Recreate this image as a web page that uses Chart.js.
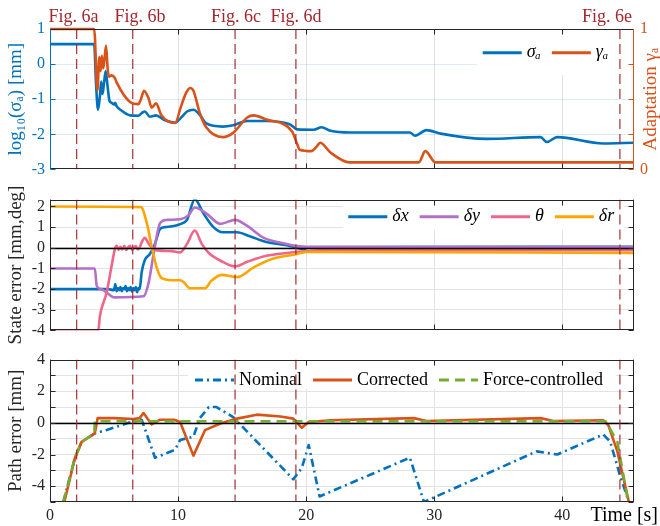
<!DOCTYPE html>
<html><head><meta charset="utf-8">
<script src="https://cdn.jsdelivr.net/npm/chart.js@4.4.1/dist/chart.umd.min.js"></script>
<style>
html,body{margin:0;padding:0;background:#fff;}
#wrap{position:relative;width:660px;height:526px;overflow:hidden;}
canvas{position:absolute;left:0;}
</style></head><body>
<div id="wrap">
<canvas id="c1" width="660" height="185" style="top:0px"></canvas>
<canvas id="c2" width="660" height="160" style="top:185px"></canvas>
<canvas id="c3" width="660" height="181" style="top:345px"></canvas>
</div>
<script>
// ---------------- DATA ----------------
const X_MAX = 45.6;
const timeTicks = [0, 10, 20, 30, 40];
const figNames = ['Fig. 6a', 'Fig. 6b', 'Fig. 6c', 'Fig. 6d', 'Fig. 6e'];
const figLineAt = [2.08, 6.46, 14.45, 19.2, 44.5];
const figLabelAt = [1.84, 7.03, 14.53, 19.2, 43.5];

// Panel 1: log10(sigma_a) and adaptation gamma_a
const sigmaTicks = [-3, -2, -1, 0, 1];
const gammaTicks = [0, 0.25, 0.5, 0.75, 1];
const sigmaT = [0, 3.45, 3.6, 3.75, 3.9, 4.0, 4.1, 4.2, 4.35, 4.5, 4.65, 4.8, 5.0, 5.1, 5.2, 5.5, 6.25, 6.9, 7.15, 7.4, 7.8, 8.3, 8.85, 9.77, 10.3, 10.7, 11.2, 11.7, 12.2, 13.5, 14.3, 15.4, 16.9, 18.75, 19.3, 20.6, 21.2, 21.9, 23.4, 28.1, 28.5, 29.4, 30.5, 34.1, 38.3, 38.8, 39.6, 43.2, 45.6];
const sigmaV = [0.57, 0.57, -0.6, -1.3, -0.9, -0.5, -0.85, -0.6, -0.2, -0.65, -1.05, -1.1, -1.15, -1.1, -1.2, -1.3, -1.46, -1.47, -1.4, -1.35, -1.5, -1.46, -1.58, -1.67, -1.5, -1.35, -1.3, -1.45, -1.69, -1.78, -1.74, -1.62, -1.62, -1.72, -1.86, -1.87, -1.8, -1.9, -1.95, -1.95, -2.04, -1.88, -1.98, -2.13, -2.08, -2.22, -2.08, -2.26, -2.24];
const gammaT = [0, 3.45, 3.7, 3.85, 3.95, 4.05, 4.15, 4.25, 4.375, 4.5, 4.6, 4.8, 5.07, 5.2, 6.25, 6.9, 7.1, 7.34, 7.68, 7.94, 8.28, 8.7, 9.77, 10.2, 10.6, 10.94, 11.2, 11.7, 12.2, 13.5, 14.3, 15.4, 15.9, 16.9, 18.9, 19.3, 19.5, 20.4, 20.8, 21.1, 21.9, 23.4, 28.8, 29.3, 30.1, 45.6];
const gammaV = [1, 1, 0.56, 0.8, 0.7, 0.81, 0.72, 0.78, 0.88, 0.72, 0.66, 0.67, 0.65, 0.62, 0.48, 0.465, 0.5, 0.56, 0.51, 0.44, 0.47, 0.385, 0.33, 0.44, 0.54, 0.58, 0.56, 0.4, 0.3, 0.23, 0.26, 0.37, 0.385, 0.355, 0.27, 0.18, 0.14, 0.13, 0.16, 0.19, 0.12, 0.05, 0.05, 0.13, 0.05, 0.05];

// Panel 2: state error
const stateTicks = [-4, -3, -2, -1, 0, 1, 2];
const dxT = [0, 4.5, 5.0, 5.1, 5.2, 5.3, 5.4, 5.5, 5.6, 5.7, 5.8, 5.9, 6.0, 6.1, 6.2, 6.3, 6.4, 6.5, 6.6, 6.7, 6.8, 6.9, 7.0, 7.16, 7.4, 7.8, 8.2, 8.6, 8.98, 9.77, 10.16, 10.7, 11.3, 12.0, 12.76, 13.5, 14.6, 15.6, 16.9, 18.5, 19.8, 20.3, 45.6];
const dxV = [-2, -2, -2.05, -1.75, -2.1, -1.95, -2.05, -1.9, -2.1, -1.95, -2.0, -1.85, -2.1, -1.95, -2.05, -1.9, -2.12, -1.95, -2.05, -1.9, -2.15, -1.95, -2.0, -1.17, -0.6, -0.3, 0.2, 0.92, 1.0, 1.07, 1.15, 1.36, 2.35, 1.65, 1.0, 0.75, 0.75, 0.56, 0.28, 0.13, -0.06, 0.04, 0.05];
const dyT = [0, 3.5, 3.65, 4.0, 4.5, 5.0, 7.3, 7.7, 8.1, 8.6, 9.1, 10.16, 10.8, 11.3, 12.2, 13.3, 14.45, 15.4, 16.7, 18.2, 19.5, 20.5, 45.6];
const dyV = [-1, -1, -1.85, -2.0, -2.2, -2.4, -2.35, -1.7, -0.25, 1.2, 1.35, 1.38, 1.57, 1.95, 1.67, 1.16, 1.35, 1.06, 0.48, 0.22, 0.07, 0.04, 0.04];
const thT = [0, 3.77, 3.9, 4.43, 4.82, 5.08, 5.2, 5.35, 5.5, 5.65, 5.8, 5.95, 6.1, 6.25, 6.4, 6.55, 6.7, 6.85, 7.0, 7.16, 7.4, 7.7, 8.2, 9.5, 10.16, 10.7, 11.3, 11.85, 12.4, 13.4, 14.45, 15.4, 16.9, 18.5, 19.8, 21, 45.6];
const thV = [-4, -4, -3.3, -2.15, -0.85, -0.03, 0.1, -0.1, 0.05, -0.08, 0.08, -0.1, 0.02, 0.1, -0.1, 0.0, 0.08, -0.08, 0.02, 0.26, 0.49, 0.2, -0.1, -0.16, -0.22, 0.19, 0.84, 0.19, -0.25, -0.65, -0.9, -0.68, -0.39, -0.25, -0.17, -0.12, -0.12];
const drT = [0, 7.1, 7.55, 7.94, 8.33, 8.7, 9.5, 10.16, 10.5, 10.9, 12.1, 12.6, 13.4, 14.6, 15.9, 17.45, 19.3, 20.05, 45.6];
const drV = [2, 1.97, 1.22, 0.06, -0.95, -1.46, -1.57, -1.57, -1.7, -1.96, -1.96, -1.6, -1.31, -1.42, -0.95, -0.52, -0.3, -0.2, -0.25];

// Panel 3: path error
const pathTicks = [-5, -4, -3, -2, -1, 0, 1, 2, 3, 4];
const nomT = [1.04, 1.95, 2.47, 3.5, 4.43, 6.1, 7.16, 8.2, 9.77, 10.16, 11.2, 11.7, 12.4, 13.0, 14.3, 19.0, 19.66, 20.2, 21.05, 28.1, 29.2, 38.0, 39.6, 43.2, 43.75, 44.5, 45.2];
const nomV = [-5, -2.2, -1.2, -0.66, -0.45, 0, 0.2, -2.2, -1.7, -1.08, -0.87, 0.3, 1.0, 1.0, 0.37, -3.57, -2.85, -1.4, -4.65, -2.2, -5.0, -1.8, -2.0, -0.73, -1.2, -3.3, -5.0];
const corT = [1.12, 1.95, 2.47, 3.5, 3.72, 5, 6.5, 7.0, 7.3, 7.94, 8.6, 9.7, 10.16, 11.2, 12.1, 13.3, 14.6, 16.15, 18.0, 19.0, 19.66, 20.2, 21.9, 28.4, 29.4, 38.3, 39.3, 43.2, 43.6, 44.3, 45.2];
const corV = [-5, -2.2, -1.2, -0.66, 0.3, 0.3, 0.25, 0.3, 0.62, -0.1, 0.2, 0.2, 0.06, -2.07, -0.46, -0.04, 0.27, 0.52, 0.4, 0.27, -0.31, 0.06, 0.17, 0.3, 0.12, 0.3, 0.12, 0.17, -0.15, -1.8, -5];
const fcT = [1.04, 1.95, 2.47, 3.46, 3.5, 43.4, 44.3, 45.15];
const fcV = [-5, -2.2, -1.2, -0.66, 0.1, 0.1, -1.2, -5];

// ---------------- STYLE ----------------
const SERIF = '"Liberation Serif", "DejaVu Serif", serif';
const BLUE = '#0072BD', ORANGE = '#D95319', PURPLE = '#B470C8', PINK = '#F0668A', GOLD = '#FFA500', GREEN = '#77AC30';
const AX = '#262626', FIGRED = '#A2282F', GRID = '#E3E3E3';
const pts = (t, v) => t.map((x, i) => ({x, y: v[i]}));

function line(ctx, x1, y1, x2, y2) { ctx.beginPath(); ctx.moveTo(x1, y1); ctx.lineTo(x2, y2); ctx.stroke(); }

const decor = {
  id: 'decor',
  afterDatasetsDraw(chart, args, o) {
    const {ctx, chartArea: a, scales} = chart;
    const xs = scales.x, ys = scales.y;
    ctx.save();
    if (o.zeroLine) {
      ctx.strokeStyle = '#000'; ctx.lineWidth = 1.3;
      const y = Math.round(ys.getPixelForValue(0)) + 0.5;
      line(ctx, a.left, y, a.right, y);
    }
    if (o.legend) {
      const L = o.legend;
      ctx.fillStyle = '#fff';
      ctx.fillRect(L.box[0], L.box[1], L.box[2] - L.box[0], L.box[3] - L.box[1]);
      let x = L.x;
      ctx.font = L.font; ctx.textBaseline = 'middle'; ctx.textAlign = 'left';
      chart.data.datasets.forEach(d => {
        ctx.save(); ctx.strokeStyle = d.borderColor; ctx.lineWidth = 3; ctx.setLineDash(d.borderDash || []);
        line(ctx, x, L.y, x + 39, L.y); ctx.restore();
        x += 39 + 5;
        ctx.fillStyle = '#000'; ctx.fillText(d.label, x, L.y);
        x += ctx.measureText(d.label).width + 11;
      });
    }
    ctx.beginPath(); ctx.rect(a.left, a.top, a.width, a.height); ctx.clip();
    ctx.setLineDash([10, 5]); ctx.strokeStyle = FIGRED; ctx.lineWidth = 1.3; ctx.globalAlpha = 0.9;
    figLineAt.forEach(t => { const x = xs.getPixelForValue(t); line(ctx, x, a.top, x, a.bottom); });
    ctx.restore();
  },
  afterDraw(chart, args, o) {
    const {ctx, chartArea: a, scales} = chart;
    const xs = scales.x, ys = scales.y;
    ctx.save();
    ctx.lineWidth = 1;
    const L = Math.round(a.left) + 0.5, R = Math.round(a.right) - 0.5, T = Math.round(a.top) + 0.5, B = Math.round(a.bottom) - 0.5;
    // inward ticks
    ctx.strokeStyle = AX;
    timeTicks.forEach(v => { if (v === 0) return; const x = Math.round(xs.getPixelForValue(v)) + 0.5; line(ctx, x, T, x, T + 5); line(ctx, x, B, x, B - 5); });
    ctx.strokeStyle = o.leftColor || AX;
    ys.ticks.forEach(t => { const y = Math.round(ys.getPixelForValue(t.value)) + 0.5; line(ctx, L, y, L + 5, y); });
    const rs = o.rightScale ? scales[o.rightScale] : ys;
    ctx.strokeStyle = o.rightColor || AX;
    rs.ticks.forEach(t => { const y = Math.round(rs.getPixelForValue(t.value)) + 0.5; line(ctx, R, y, R - 5, y); });
    // borders
    ctx.strokeStyle = AX; line(ctx, a.left, T, a.right, T); line(ctx, a.left, B, a.right, B);
    ctx.strokeStyle = o.leftColor || AX; line(ctx, L, a.top, L, a.bottom);
    ctx.strokeStyle = o.rightColor || AX; line(ctx, R, a.top, R, a.bottom);
    // axis titles
    (o.titles || []).forEach(Tt => {
      ctx.save(); ctx.translate(Tt.x, (a.top + a.bottom) / 2 + (Tt.dy || 0)); ctx.rotate(-Math.PI / 2);
      ctx.font = '19px ' + SERIF; ctx.fillStyle = Tt.color; ctx.textAlign = 'center'; ctx.textBaseline = 'middle';
      ctx.fillText(Tt.text, 0, 0); ctx.restore();
    });
    if (o.figLabels) {
      ctx.font = '18px ' + SERIF; ctx.fillStyle = FIGRED; ctx.textAlign = 'center'; ctx.textBaseline = 'alphabetic';
      figNames.forEach((n, i) => ctx.fillText(n, xs.getPixelForValue(figLabelAt[i]), 21.5));
    }
    if (o.timeLabel) {
      ctx.font = '20px ' + SERIF; ctx.fillStyle = '#000'; ctx.textAlign = 'right'; ctx.textBaseline = 'alphabetic';
      ctx.fillText(o.timeLabel, 658, 176);
    }
    ctx.restore();
  }
};

function xScale(showLabels) {
  return {
    type: 'linear', min: 0, max: X_MAX,
    afterBuildTicks: s => { s.ticks = timeTicks.map(v => ({value: v})); },
    ticks: {display: showLabels, padding: 4, color: AX, font: {family: SERIF, size: 16}, maxRotation: 0, autoSkip: false},
    grid: {color: GRID, drawTicks: false, lineWidth: 1},
    border: {display: false},
    afterFit: s => { s.height = showLabels ? 24 : 0; }
  };
}
function yScale(min, max, tickVals, opts) {
  return Object.assign({
    type: 'linear', position: 'left', min, max,
    afterBuildTicks: s => { s.ticks = tickVals.map(v => ({value: v})); },
    ticks: {color: AX, font: {family: SERIF, size: 16}, padding: 5, autoSkip: false},
    grid: {color: c => (c.tick && c.tick.value > min && c.tick.value < max) ? GRID : 'rgba(0,0,0,0)', drawTicks: false, lineWidth: 1},
    border: {display: false},
    afterFit: s => { s.width = 50; }
  }, opts || {});
}
function ds(label, t, v, color, extra) {
  return Object.assign({label, data: pts(t, v), borderColor: color, backgroundColor: color, borderWidth: 2.6,
    pointRadius: 0, fill: false, tension: 0}, extra || {});
}
const common = {
  responsive: false, animation: false, devicePixelRatio: 1,
  plugins: {legend: {display: false}, tooltip: {enabled: false}},
  elements: {line: {borderJoinStyle: 'round', borderCapStyle: 'butt'}}
};

// ---------------- Chart 1 ----------------
new Chart(document.getElementById('c1'), {
  type: 'line',
  data: {datasets: [
    ds('σₐ', sigmaT, sigmaV, BLUE, {yAxisID: 'y', cubicInterpolationMode: 'monotone', order: 2}),
    ds('γₐ', gammaT, gammaV, ORANGE, {yAxisID: 'y1', cubicInterpolationMode: 'monotone', order: 1, clip: {left: 0, right: 0, top: 2, bottom: 0}})
  ]},
  options: Object.assign({}, common, {
    layout: {padding: {top: 29, bottom: 11, left: 0, right: 0}},
    scales: {
      x: xScale(false),
      y: yScale(-3, 1, sigmaTicks, {
        ticks: {color: BLUE, font: {family: SERIF, size: 16}, padding: 5, autoSkip: false},
        grid: {color: c => (c.tick && c.tick.value > -3 && c.tick.value < 1) ? 'rgba(0,114,189,0.14)' : 'rgba(0,0,0,0)', drawTicks: false}
      }),
      y1: {type: 'linear', position: 'right', min: 0, max: 1,
        afterBuildTicks: s => { s.ticks = gammaTicks.map(v => ({value: v})); },
        ticks: {color: ORANGE, font: {family: SERIF, size: 16}, padding: 6, autoSkip: false, callback: v => (v === 0 || v === 1) ? String(v) : ''},
        grid: {display: false, drawTicks: false}, border: {display: false},
        afterFit: s => { s.width = 26; }}
    },
    plugins: Object.assign({}, common.plugins, {decor: {
      leftColor: BLUE, rightColor: ORANGE, rightScale: 'y1', figLabels: true,
      legend: {x: 482.7, y: 52.7, box: [477, 31, 632, 75], font: 'italic 18px ' + SERIF},
      titles: [{text: 'log₁₀(σₐ) [mm]', x: 16, color: BLUE}, {text: 'Adaptation γₐ', x: 651, color: ORANGE}]
    }})
  }),
  plugins: [decor]
});

// ---------------- Chart 2 ----------------
new Chart(document.getElementById('c2'), {
  type: 'line',
  data: {datasets: [
    ds('δx', dxT, dxV, BLUE, {cubicInterpolationMode: 'monotone', order: 4}),
    ds('δy', dyT, dyV, PURPLE, {cubicInterpolationMode: 'monotone', order: 3}),
    ds('θ', thT, thV, PINK, {cubicInterpolationMode: 'monotone', order: 2}),
    ds('δr', drT, drV, GOLD, {cubicInterpolationMode: 'monotone', order: 1})
  ]},
  options: Object.assign({}, common, {
    layout: {padding: {top: 7.3, bottom: 6.7, left: 0, right: 26}},
    scales: {x: xScale(false), y: yScale(-4, 2.334, stateTicks)},
    plugins: Object.assign({}, common.plugins, {decor: {
      zeroLine: true,
      legend: {x: 348.3, y: 31.7, box: [343, 18, 624, 45], font: 'italic 18px ' + SERIF},
      titles: [{text: 'State error [mm,deg]', x: 16, color: AX}]
    }})
  }),
  plugins: [decor]
});

// ---------------- Chart 3 ----------------
new Chart(document.getElementById('c3'), {
  type: 'line',
  data: {datasets: [
    ds('Nominal', nomT, nomV, BLUE, {borderDash: [8, 4, 2, 4], order: 3}),
    ds('Corrected', corT, corV, ORANGE, {order: 2}),
    ds('Force-controlled', fcT, fcV, GREEN, {borderDash: [10, 6], order: 1})
  ]},
  options: Object.assign({}, common, {
    layout: {padding: {top: 12.3, bottom: 0, left: 0, right: 26}},
    scales: {
      x: xScale(true),
      y: yScale(-5, 4, pathTicks, {
        ticks: {color: AX, font: {family: SERIF, size: 16}, padding: 5, autoSkip: false, callback: v => (v % 2 === 0 && v > -5 && v <= 4) ? String(v) : ''}
      })
    },
    plugins: Object.assign({}, common.plugins, {decor: {
      zeroLine: true, timeLabel: 'Time [s]',
      legend: {x: 195, y: 35, box: [188, 13.5, 616, 44], font: '18px ' + SERIF},
      titles: [{text: 'Path error [mm]', x: 16, color: AX}]
    }})
  }),
  plugins: [decor]
});
</script>
</body></html>
